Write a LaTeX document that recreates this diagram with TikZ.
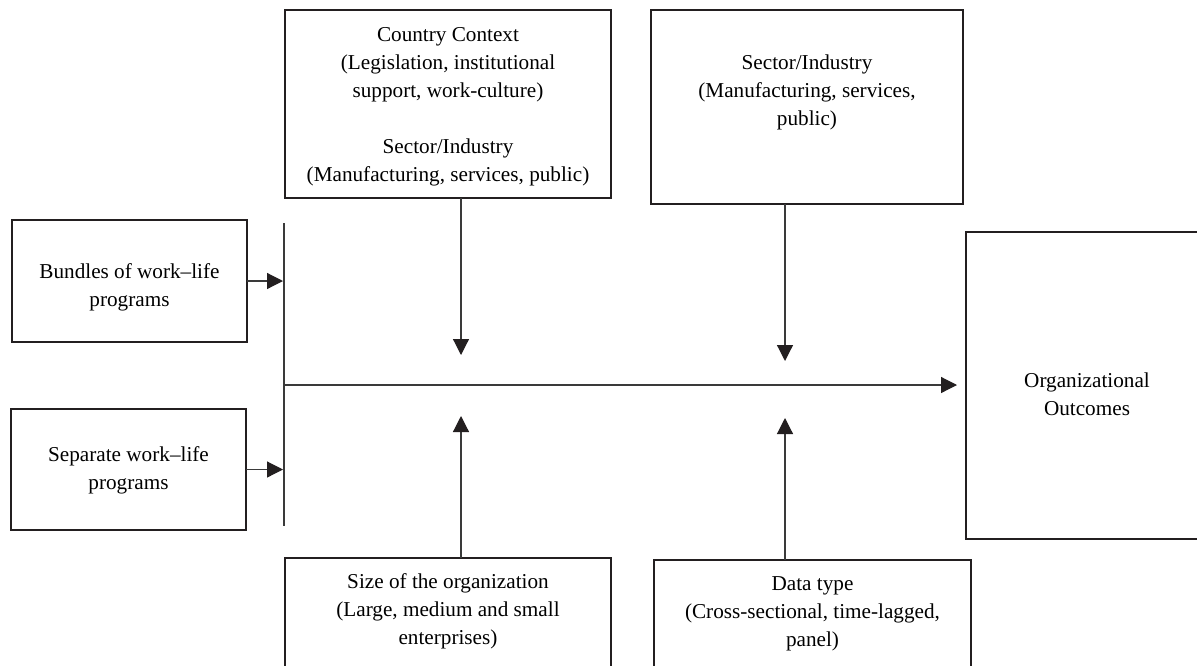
\documentclass[tikz,border=0pt]{standalone}
\usepackage{fontspec}
\setmainfont{Liberation Serif}
\usetikzlibrary{arrows.meta,calc}
\definecolor{edge}{HTML}{231F20}
\definecolor{wire}{HTML}{3A3A3A}
\begin{document}
\begin{tikzpicture}[x=1pt,y=-1pt,
  box/.style={draw=edge,line width=1.8pt,minimum width=#1,inner sep=0pt,outer sep=0pt},
  txt/.style={align=center,inner sep=0pt,text=black,
              font={\fontsize{21.2pt}{28pt}\selectfont}},
  flow/.style={draw=wire,line width=1.2pt,
               -{Triangle[length=16pt,width=16pt,color=edge,fill=edge]}},
  wirestyle/.style={draw=wire,line width=1.2pt}]
  \clip (0,0) rectangle (1197,665);
  \fill[white] (0,0) rectangle (1197,665);

  % boxes
  \node[box=326pt,minimum height=188pt] (country)  at (448,104)    {};
  \node[box=312pt,minimum height=194pt] (sector)   at (807,107)    {};
  \node[box=235pt,minimum height=122pt] (bundles)  at (129.5,281)  {};
  \node[box=235pt,minimum height=121pt] (separate) at (128.5,469.5){};
  \node[box=242pt,minimum height=307pt] (outcomes) at (1087,385.5) {};
  \node[box=326pt,minimum height=150pt] (size)     at (448,633)    {};
  \node[box=317pt,minimum height=150pt] (data)     at (812.5,635)  {};

  % texts
  \node[txt] (countrytxt) at ($(country.north)+(0,97)$)
    {Country Context\\(Legislation, institutional\\support, work-culture)\\[28pt]Sector/Industry\\(Manufacturing, services, public)};
  \node[txt] (sectortxt) at ($(sector.north)+(0,82)$)
    {Sector/Industry\\(Manufacturing, services,\\public)};
  \node[txt] (bundlestxt) at ($(bundles.center)+(0,6)$)
    {Bundles of work–life\\programs};
  \node[txt] (separatetxt) at ($(separate.center)+(0,1)$)
    {Separate work–life\\programs};
  \node[txt] (outcomestxt) at ($(outcomes.center)+(0,9)$)
    {Organizational\\Outcomes};
  \node[txt] (sizetxt) at ($(size.north)+(0,53)$)
    {Size of the organization\\(Large, medium and small\\enterprises)};
  \node[txt] (datatxt) at ($(data.north)+(0,54)$)
    {Data type\\(Cross-sectional, time-lagged,\\panel)};

  % collecting bar and main path
  \coordinate (bustop) at (284,223);
  \coordinate (busbot) at (284,526);
  \coordinate (busmid) at (284,385);
  \coordinate (j1) at (461,385);
  \coordinate (j2) at (785,385);
  \draw[wirestyle] (bustop) -- (busbot);
  \draw[flow,shorten >=1pt] (bundles.east) -- (bundles.east -| bustop);
  \draw[flow,shorten >=1pt] (separate.east) -- (separate.east -| bustop);
  \draw[flow,shorten >=9pt] (busmid) -- (busmid -| outcomes.west);

  % moderators
  \draw[flow,shorten >=30pt] (j1 |- country.south) -- (j1);
  \draw[flow,shorten >=24pt] (j2 |- sector.south) -- (j2);
  \draw[flow,shorten >=31pt] (j1 |- size.north) -- (j1);
  \draw[flow,shorten >=33pt] (j2 |- data.north) -- (j2);
\end{tikzpicture}
\end{document}
